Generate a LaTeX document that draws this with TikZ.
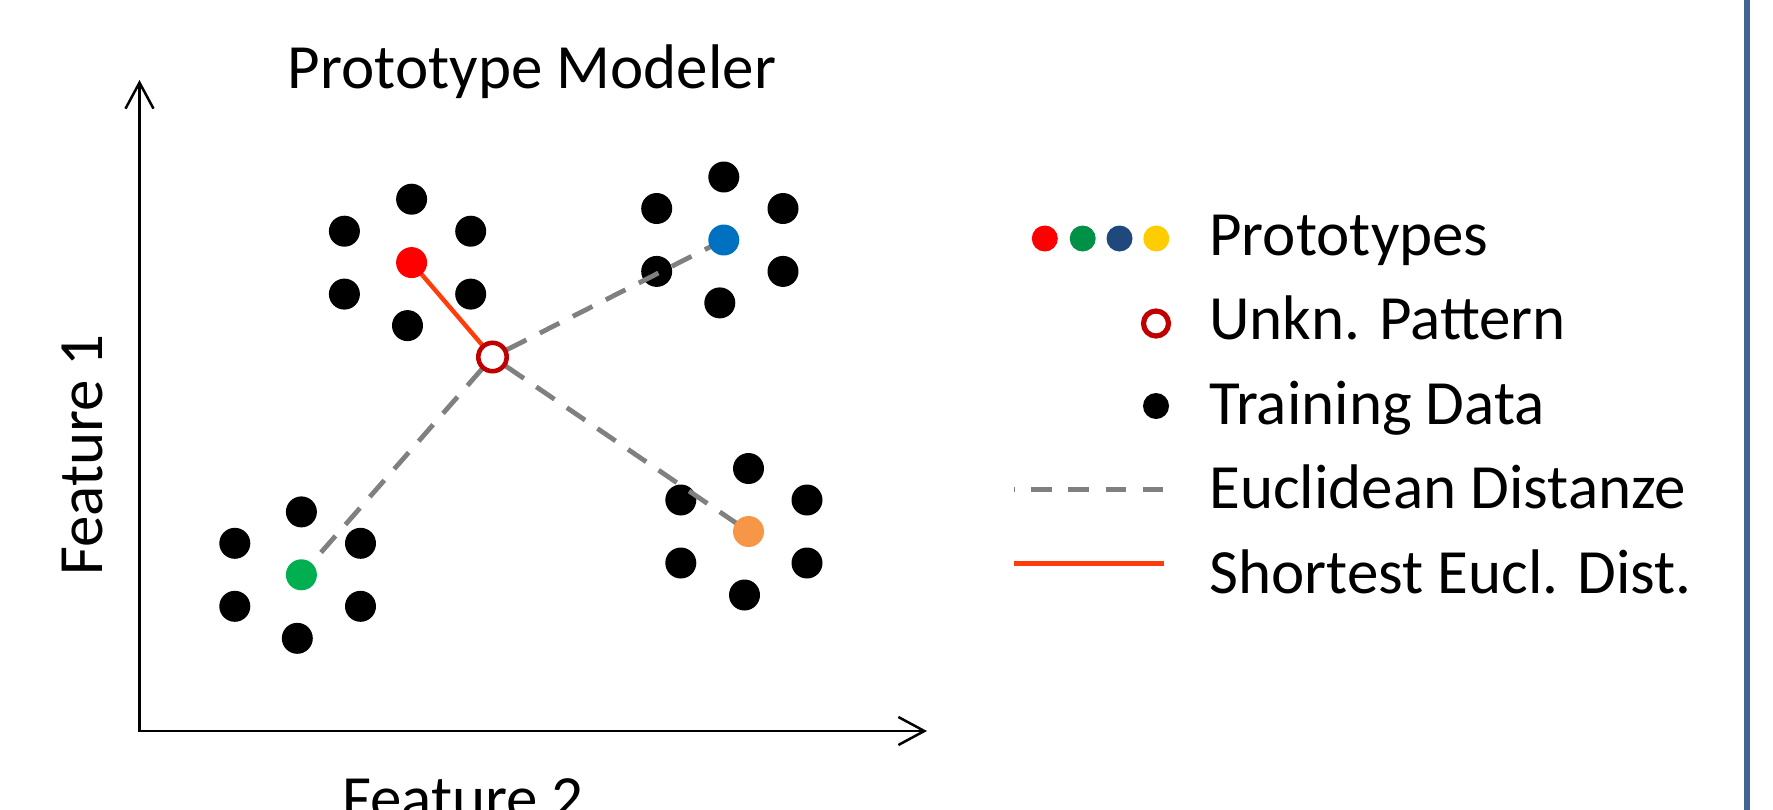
\documentclass[tikz,border=0pt]{standalone}
\usepackage{fontspec}
\setmainfont{Carlito}
\usetikzlibrary{arrows.meta}
\definecolor{axisblue}{RGB}{65,100,145}
\definecolor{protored}{RGB}{255,0,0}
\definecolor{protoblue}{RGB}{0,112,192}
\definecolor{protogreen}{RGB}{0,176,80}
\definecolor{protoorange}{RGB}{247,150,70}
\definecolor{leggreen}{RGB}{0,145,70}
\definecolor{legblue}{RGB}{31,73,125}
\definecolor{legyellow}{RGB}{255,204,0}
\definecolor{unkred}{RGB}{192,0,0}
\definecolor{shortred}{RGB}{255,60,10}
\definecolor{distgray}{RGB}{128,128,128}
\tikzset{
  dot/.style={circle,fill=black,inner sep=0pt,minimum size=15.5pt},
  pdot/.style={circle,fill=#1,inner sep=0pt,minimum size=15.5pt},
  ldot/.style={circle,fill=#1,inner sep=0pt,minimum size=13pt},
  unk/.style={circle,draw=unkred,fill=white,line width=2.3pt,inner sep=0pt,minimum size=#1},
  lbl/.style={font=\fontsize{31.5pt}{36pt}\selectfont,inner sep=0pt},
  legtxt/.style={lbl,anchor=base west},
  eucl/.style={draw=distgray,line width=2.4pt,dash pattern=on 11pt off 7.5pt},
  legeucl/.style={draw=distgray,line width=2.1pt,dash pattern=on 10.3pt off 8.3pt},
  short/.style={draw=shortred,line width=2.2pt},
  axisline/.style={line width=1.25pt,{Straight Barb[length=13pt,width=14pt]}-{Straight Barb[length=13pt,width=14pt]}}
}
\begin{document}
\begin{tikzpicture}[x=0.5pt,y=-0.5pt]
\useasboundingbox (0,0) rectangle (1773,809);
\clip (0,0) rectangle (1773,809);
% axes
\coordinate (ytop) at (139.5,80);
\coordinate (orig) at (139.5,731);
\coordinate (xend) at (927,731);
\draw[axisline] (ytop) -- (orig) -- (xend);
\node[lbl,anchor=base] (title) at (532,88) {Prototype Modeler};
\node[lbl,anchor=base,rotate=90] (f1) at (102,455) {Feature 1};
\node[lbl,anchor=base] (f2) at (463,819) {Feature 2};
% right border
\draw[axisblue,line width=3pt] (1747,-5) -- (1747,815);
% unknown pattern and prototypes (positions)
\coordinate (uc) at (492.5,357);
\coordinate (rc) at (411.6,262.6);
\coordinate (bc) at (723.8,240);
\coordinate (gc) at (301.4,574.8);
\coordinate (oc) at (748.5,531.5);
% red cluster
\node[dot] (r1) at (411.6,199.2) {};
\node[dot] (r2) at (344.4,231.2) {};
\node[dot] (r3) at (470.7,231.2) {};
\node[dot] (r4) at (344.4,294.1) {};
\node[dot] (r5) at (470.7,294.1) {};
\node[dot] (r6) at (407.5,325.6) {};
% blue cluster
\node[dot] (b1) at (723.8,177) {};
\node[dot] (b2) at (656.7,208.5) {};
\node[dot] (b3) at (783,208.5) {};
\node[dot] (b4) at (656.7,271.4) {};
\node[dot] (b5) at (783,271.4) {};
\node[dot] (b6) at (719.8,302.9) {};
% green cluster
\node[dot] (g1) at (301.4,511.9) {};
\node[dot] (g2) at (234.8,543.3) {};
\node[dot] (g3) at (360.5,543.3) {};
\node[dot] (g4) at (234.8,606.3) {};
\node[dot] (g5) at (360.5,606.3) {};
\node[dot] (g6) at (297.3,638.3) {};
% orange cluster
\node[dot] (o1) at (748.5,468.5) {};
\node[dot] (o2) at (680.8,500) {};
\node[dot] (o3) at (807,500) {};
\node[dot] (o4) at (680.8,563) {};
\node[dot] (o5) at (807,563) {};
\node[dot] (o6) at (744.5,595) {};
% connectors (over training data, under prototypes)
\draw[eucl,shorten <=8pt] (uc) -- (bc);
\draw[eucl,shorten <=8pt] (uc) -- (gc);
\draw[eucl,shorten <=8pt] (uc) -- (oc);
\draw[short] (uc) -- (rc);
% prototypes
\node[pdot=protored] (rp) at (rc) {};
\node[pdot=protoblue] (bp) at (bc) {};
\node[pdot=protogreen] (gp) at (gc) {};
\node[pdot=protoorange] (op) at (oc) {};
% unknown
\node[unk=14.2pt] (u) at (uc) {};
% legend
\node[ldot=protored] (l1) at (1044.8,238.5) {};
\node[ldot=leggreen] (l2) at (1082.7,238.5) {};
\node[ldot=legblue] (l3) at (1119.5,238.5) {};
\node[ldot=legyellow] (l4) at (1156.3,238.5) {};
\node[legtxt] (t1) at (1209,255) {Prototypes};
\node[unk=12.5pt,line width=2.6pt] (lu) at (1156,323.5) {};
\node[legtxt] (t2) at (1209,339.5) {Unkn. Pattern};
\node[ldot=black] (lt) at (1156,406) {};
\node[legtxt] (t3) at (1209,424) {Training Data};
\coordinate (le1) at (1014,489.5);
\coordinate (le2) at (1164,489.5);
\draw[legeucl,dash phase=10pt] (le1) -- (le2);
\node[legtxt] (t4) at (1209,508.5) {Euclidean Distanze};
\coordinate (ls1) at (1014,563.5);
\coordinate (ls2) at (1163.5,563.5);
\draw[short,line width=2.5pt] (ls1) -- (ls2);
\node[legtxt] (t5) at (1209,593.5) {Shortest Eucl. Dist.};
\end{tikzpicture}
\end{document}
